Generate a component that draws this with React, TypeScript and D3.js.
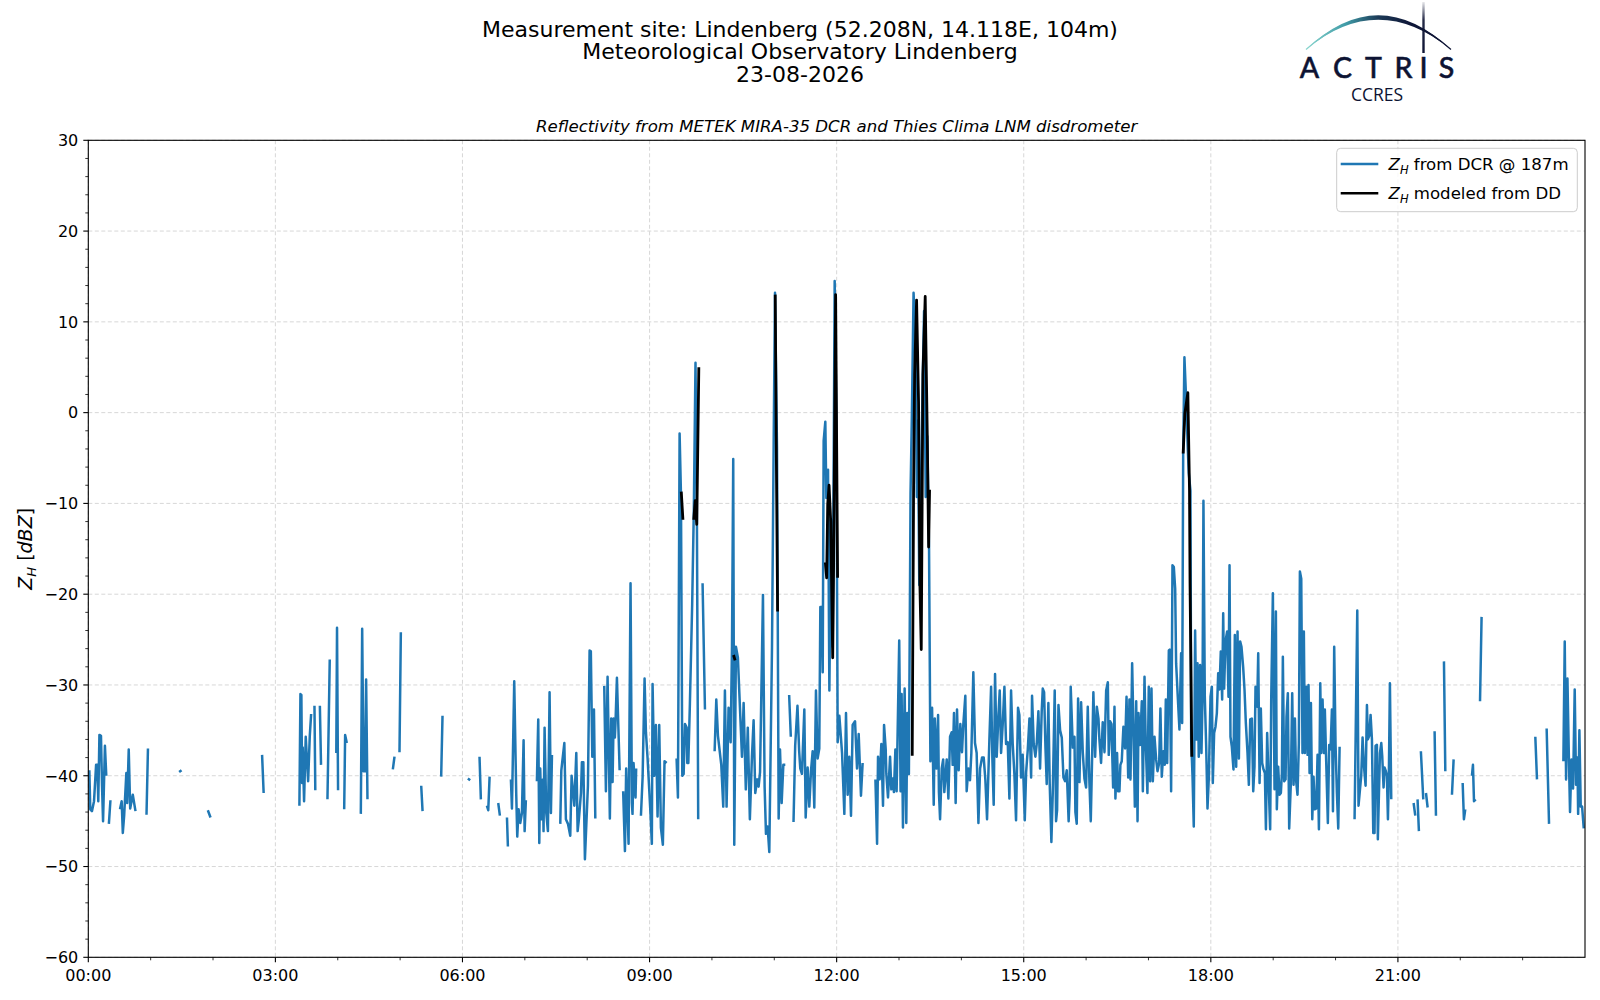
import React from "react";
import * as d3 from "d3";

type P = [number, number] | null;

// time in minutes since 00:00 UTC, reflectivity in dBZ; null = gap in data
const dcrNight: P[] = [
  [1, -39.4], [1.9, -43.7], [3.5, -43.9], [5.5, -42.8], [7.5, -38.8], [8.7, -38.8], [9.6, -42.8], [10.7, -35.5], [12.2, -35.6], [13.2, -41.1], [14.2, -45], [16, -36.7], [17.3, -40], null,
  [19.8, -45.3], [21.3, -42.7], null,
  [30.5, -43.7], [32.1, -42.8], [33.2, -46.3], [34.5, -44.4], [36.6, -39.7], [37.4, -43], [38.9, -37.1], [40.3, -43.6], [42.8, -42.1], [45.4, -43.9], null,
  [56, -44.3], [57.4, -37], null,
  [87.4, -39.6], [89.7, -39.4], null,
  [115, -43.8], [117.6, -44.6], null,
  [167.2, -37.7], [168.7, -41.9], null,
  [203.1, -43.3], [204.1, -31], [205, -31.1], [205.7, -40.8], [206.3, -36.9], [207.6, -42.8], [209.2, -35.7], [211.5, -40.6], [213.1, -35.6], [214.4, -33.2], null,
  [217.6, -32.3], [218.4, -41.6], null,
  [222.8, -32.3], [223.9, -38.8], null,
  [230.1, -42.6], [232.3, -27.2], null,
  [238.6, -37.5], [239.3, -23.7], [240.3, -41.6], null,
  [246.2, -43.7], [247.1, -35.5], [248.7, -36.4], null,
];

const dcrMorning: P[] = [
  [262.2, -44.2], [263.5, -23.8], [264.8, -39.5], [266.4, -39.5], [267.3, -29.4], [268.6, -42.6], null,
  [293, -39.3], [294.6, -37.9], null,
  [299.4, -37.4], [300.7, -24.2], null,
  [320.3, -41.1], [321.6, -43.9], null,
  [339.5, -40.1], [340.8, -33.4], null,
  [365.2, -40.3], [367.4, -40.5], null,
  [376.4, -37.9], [377.7, -42.6], null,
  [383.5, -43.3], [384.8, -43.8], [386.1, -40.1], null,
  [394.4, -43], [396, -44.4], null,
  [402.8, -44.6], [403.7, -47.8], null,
  [406.6, -40.4], [407.6, -43.6], [409.8, -29.6], [411.7, -41.9], [412.7, -46.7], [414, -43.7], [415.6, -45.2], [417.2, -44.1], [418.8, -36.1], [419.8, -46.1], [421, -42.7], null,
  [431.6, -40.6], [432.9, -33.8], [433.9, -47.4], [434.8, -39.2], [436.1, -44.8], [437.4, -40.4], [438, -46.1], [439, -34.7], [440.6, -44.1], [442.2, -46.1], [443.8, -30.8], [445.1, -44.1], [446.1, -37.7], null,
  [454.1, -45.3], [455.1, -39.4], [458, -36.4], [459.5, -44.8], [461.5, -45.3], [463.7, -46.6], [465, -40], [467.6, -43.3], [469.5, -37.5], [470.8, -46.1], [472, -44.8], [474, -41.9], [474.9, -38.5], [476.3, -38.5], [477.8, -49.2], [480.7, -41.1], [482.3, -26.2], [483.5, -26.3], [484.9, -37.9], [486.5, -32.7], [487.8, -44.7], null,
  [496.4, -30.1], [498, -41.7], [499.6, -29.1], [501.8, -44.7], [503.1, -33.7], [504.4, -40.7], [505.4, -33.7], [506.6, -35.8], [507.2, -34.3], [508.6, -29.2], [511.2, -39.4], null,
  [514.6, -41.7], [516.3, -48.3], [517.5, -39.2], [519.8, -47.5], [521.7, -18.8], [523, -43], [523.6, -44.2], [524.6, -38.6], [526.5, -42.4], [527.1, -39.2], null,
  [531.7, -44.4], [533.3, -40.2], [535.2, -29.3], [536.5, -35.2], [538.1, -38.1], [541, -44.4], [542.2, -47.5], [542.9, -29.9], [544.5, -40], [546.1, -34.4], [547.7, -44.5], [549.3, -34.4], [550.9, -45.7], [552.8, -47.6], [554.4, -38.4], [556.4, -38.6], null,
  [566, -38.1], [567.3, -42.4], [568.9, -2.3], [570.2, -8.9], [571.5, -40], [572.8, -39.8], [574.1, -34.3], [575.7, -34.7], [576.3, -38.6], [577.3, -38.6], [578.8, -32.1], [581, -21.1], [582.6, -10.6], [584.2, 5.5], [585.5, -10.1], [586.8, -44.8], null,
  [591, -18.8], [593.3, -32.7], null,
];

const dcrMidday: P[] = [
  [602.6, -37.3], [604.2, -31.6], [605.8, -35.6], [609, -38.8], [610.9, -43.4], [612.5, -30.6], [614.1, -43.4], [616, -32.5], [618, -36.3], [619.3, -25.8], [620.5, -5.1], [621.5, -47.6], [623.1, -25.8], [625, -27], [628.9, -37.9], [630.5, -32], [632.6, -41.5], [634.5, -34.7], [636.5, -44.8], [638.5, -37.9], [640.1, -33.9], [641.7, -41.9], [643.6, -40.4], [644.9, -41.2], [646.3, -39.6], [649.1, -20.1], [650.7, -41.2], [652, -46.4], [653.6, -45.6], [655.2, -48.4], [657.8, -25.8], [659.4, -3.4], [660.7, 13.2], [662.6, -3.8], [664.2, -44.7], [665.5, -37.1], [667.1, -43], [668.7, -38.8], [670.6, -38.8], null,
  [674.3, -31.1], [675.9, -35.7], null,
  [678.5, -45.1], [680.1, -36.7], [682.3, -32.3], [683.9, -37.2], [685, -39.2], [686.6, -39.8], [688.9, -32.7], [690.2, -44.6], [692.1, -39.1], [693.7, -43.4], [695.3, -39.5], [696.9, -37.3], [698.5, -43.5], [700.1, -30.6], [701.7, -38.1], [703.3, -37], [704.3, -21.4], [705.6, -21.4], [706.6, -28.6], [707.5, -3.1], [709.1, -1], [710.1, -9.4], [711.7, -6.3], [713, -30.6], [714.6, -11.8], [716.2, -25.8], [718.1, 14.5], [719.7, -0.1], [721, -36.3], [722.6, -33.4], [725.2, -37.5], [727.4, -44.2], [729, -33.1], [730.6, -42.1], [732.2, -37.9], [733.8, -44.4], [735.4, -34.4], [737.7, -34], [739.6, -39.2], [741.2, -35.4], [743.4, -42.2], [745, -38.6], null,
  [757.3, -40.4], [758.9, -47.5], [759.8, -37.9], [761.4, -40.4], [763, -36.5], [764.6, -43.3], [765.6, -34.4], [767.2, -37.1], [767.8, -39.8], [769.4, -42.4], [771.4, -37.9], [772.6, -41.5], [773.9, -40.3], [775.1, -41.8], [776.5, -37.1], [777.7, -41.7], [780.2, -25.1], [781.5, -41.7], [782.5, -31], [783.8, -45.7], [785.4, -30.4], [787, -45.2], [788, -33.1], [789.5, -39.8], [791.1, -8.9], [792.4, -0.1], [794, 13.2], [796, 8], [797.2, -9.3], [798.2, -0.9], [799.5, -19], [800.8, -10.6], [802.4, 0.8], [804.1, 11.2], [805.7, -9.3], [807.2, -2.6], [808.9, -15], [810.2, -38.4], [811.8, -32.5], [813.4, -43.2], [814.4, -33.7], [816, -39.2], [817.6, -33.3], [818.4, -41.8], [819.5, -44.8],
];

const dcrAfternoon: P[] = [
  [821.1, -39.2], [822.5, -38.2], [823.6, -41.8], [825.9, -38.2], [827.5, -42.5], [829.1, -35.7], [830.7, -35.2], [831.6, -38.8], [832.9, -33.1], [834.5, -43], [835.8, -32.7], [837.4, -39.4], [839, -34.3], [840.6, -37.4], [841.9, -34.3], [843.8, -31.2], [845.1, -41.7], [846.7, -39.2], [848.3, -40.5], [849.6, -37.5], [851.5, -28.6], [853.1, -36.4], [854.7, -37.5], [856.4, -45.2], [858, -39.2], [859.9, -38], [861.5, -38], [863.1, -40.5], [864.7, -44.8], [866.9, -36.2], [868.6, -30.2], [869.8, -38], [871.1, -43.2], [872.4, -28.8], [874, -37.9], [875.6, -33.5], [876.9, -30.6], [878.2, -37.5], [879.8, -34.3], [881.4, -30.2], [883, -36.5], [884.6, -36.3], [886.2, -42.5], [887.8, -30.6], [889.4, -36.5], [891, -39.8], [892.6, -44.9], [894.5, -32.5], [895.8, -33.3], [897.4, -40.2], [899, -37.7], [901, -44.9], [902.3, -39.6], [903.9, -37.1], [905.5, -33.7], [907.1, -40.2], [908, -31.2], [909.6, -36.5], [911.2, -37.9], [912.5, -36.5], [914.1, -32.9], [915.7, -39.2], [917.3, -32.9], [918.3, -30.4], [919.6, -30.8], [920.9, -36.9], [922.1, -40.9], [923.7, -32], [925, -40.9], [926.6, -47.3], [927.9, -42], [929.8, -30.6], [931.1, -45], [932.1, -43.8], [933.4, -32.2], [935, -35], [936.6, -35.8], [938.2, -40.2], [939.8, -40.6], [941.4, -39.4], [943.2, -45], [944.2, -42], [945.2, -30.2], [947.2, -36.9], [948.8, -35.7], [949.7, -44], [951, -45.3], [952.3, -31.5], [953.6, -40.7], [955.2, -31.9], [956.8, -37.4], [958.4, -40.3], [960, -41.3], [961.6, -32.4], [963.2, -40.8], [964.5, -45], [965.8, -37.9], [967, -30.8], [968.7, -37.9], [970.3, -32.4], [971.9, -33.7], [972.8, -36], [974.4, -38.6], [976, -34.1], [977.7, -37.4], [979.3, -30.6], [980.9, -29.7], [981.8, -37.7], [983.1, -34], [984.4, -34.3], [986, -41.3], [987.3, -32.4], [988.2, -42.5], [989.8, -37.5], [990.8, -41.7], [992.1, -41.7], [993, -38.8], [994.3, -38.4], [995.9, -34.6], [997.5, -37], [998.9, -31.3], [1000.5, -40.2],
  [1001.7, -31.6], [1002.7, -40.4], [1004.3, -27.6], [1005.6, -34.9], [1006.9, -43.4], [1008.2, -31.8], [1009.5, -45], [1010.4, -33.1], [1012, -36.6], [1013.6, -31.8], [1014.6, -41.7], [1016.2, -29.1], [1017.4, -36.6], [1019, -41.9], [1020.3, -30.2], [1021.6, -40.6], [1022.9, -30.4], [1024.2, -40.6], [1025.8, -35.7], [1027.4, -38.2], [1028.7, -39.5], [1030.3, -38.6], [1031.5, -32.6], [1032.8, -40.1], [1034.4, -37.3], [1035.7, -38.8], [1036.7, -31.6], [1038, -38.6], [1039.6, -26.2], [1040.5, -26.1], [1041.8, -41.7], [1043.1, -16.8], [1044.4, -17], [1045.7, -19.4], [1046.6, -27.6], [1048.2, -31.3], [1049.8, -34.9], [1051.4, -26.5], [1052.4, -34.2], [1053.4, -4.5], [1054.6, 6.1], [1056.3, 1.3], [1057.9, -4.2], [1058.8, -6.7], [1060.4, -8.6], [1061.1, -36], [1062.4, -40.1], [1063.6, -45.6], [1064.9, -24], [1066.2, -36], [1067.2, -27.6], [1068.4, -37.9], [1069.7, -27.8], [1071, -37.5], [1072, -31.5], [1072.9, -9.7], [1074.2, -31.3], [1075.5, -36.6], [1076.8, -43.6], [1078.1, -40.1], [1079.7, -31.3],
];

const dcrEvening: P[] = [
  [1081, -30.2], [1081.9, -40.8], [1083.2, -35.3], [1084.5, -34.6], [1085.8, -33.1], [1087.1, -28.7], [1088.3, -30.5], [1089.6, -26.3], [1090.9, -31.6], [1091.9, -22.1], [1092.8, -30.4], [1094.1, -25.2], [1095.7, -24.1], [1097, -31.3], [1098, -16.8], [1098.9, -35.7], [1100.2, -36.8], [1101.8, -39.3], [1103.1, -24.5], [1104.4, -39], [1105.7, -24.1], [1107, -38.1], [1108.2, -25.2], [1109.5, -25.8], [1111.1, -28], [1112.4, -30.5], [1113.7, -34.2], [1115.3, -37.5], [1116.6, -41], [1117.9, -33.8], [1119.5, -33.7], [1120.8, -41.7], [1122, -39], [1123, -30.2], [1124.6, -32.4], [1125.6, -26.5], [1126.9, -40.8], [1128.1, -32.6], [1129.4, -38.6], [1130.7, -39.3], [1132, -39.7], [1133, -45.9], [1134.2, -35.3], [1135.8, -41.5], [1137.1, -45.9], [1138.1, -31.6], [1139.7, -19.9], [1141.3, -41.5], [1142.6, -21.9], [1143.5, -43.7], [1144.8, -39], [1146.1, -42.1], [1147.4, -41.9], [1148.4, -39.7], [1149.3, -26.9], [1150.6, -40.6], [1151.9, -40.4], [1152.8, -33.5], [1154.1, -30.9], [1155.4, -45.8], [1157, -40.8], [1158.3, -30.9], [1159.6, -41], [1160.9, -33.7], [1162.1, -40.6], [1163.4, -42.1], [1164.7, -36.4], [1165.7, -17.5], [1167, -18.3], [1168.2, -37.5], [1169.5, -24.1], [1170.5, -37.5], [1171.8, -30.2], [1173.1, -37.7], [1174, -30], [1175, -39.7], [1176.3, -32], [1177.6, -44.8], [1178.8, -40.1], [1180.1, -43.7], [1181.4, -43.6], [1182.7, -37.7], [1184, -45.9], [1185.3, -29.8], [1186.2, -37.5], [1187.5, -31.6], [1188.8, -37.5], [1189.7, -32.7], [1191, -38.4], [1192.6, -45.2], [1193.9, -36.6], [1195.2, -37.1], [1196.5, -32.7], [1197.5, -43.9], [1198.7, -25.8], [1200, -36.6], [1201.3, -41.9], [1202.6, -45.8], [1203.9, -36.8], null,
  [1218.3, -44.8], [1220.9, -21.8], [1222.1, -43.3], [1224.7, -40], [1226, -35.8], [1227.3, -38.9], [1228.9, -41.1], [1230.2, -32.2], [1231.1, -36], [1232.4, -35.6], [1233.7, -33.3], [1235, -36], [1236.3, -46.3], [1237.5, -46.3], [1238.5, -36.7], [1239.8, -36.6], [1240.7, -47], [1242.7, -37.5], [1244, -36.4], [1244.9, -37.8], [1246.2, -41.3], [1247.2, -39.1], [1248.4, -39.5], [1249.4, -40], [1250.4, -44.8], [1251.3, -39.7], [1252.3, -29.8], [1253.6, -42.6], null,
  [1275.1, -43], [1276.7, -44.4], null,
  [1278.9, -42.6], [1280.2, -46.1], null,
  [1282.1, -37.3], [1284.4, -42.6], null,
  [1287, -41.9], [1288.6, -43.5], null,
  [1295.3, -35.1], [1296.6, -44.4], null,
  [1304.3, -27.4], [1305.6, -39.5], null,
  [1312, -42.1], [1313.6, -38.2], null,
  [1322.3, -40.8], [1323.5, -44.8], [1324.8, -43.7], null,
  [1331.2, -40], [1332.2, -38.8], [1333.2, -42.8], [1334.8, -42.6], null,
  [1339, -31.8], [1340.5, -22.5], null,
  [1392.2, -35.7], [1393.8, -40.4], null,
  [1403.1, -34.8], [1405.4, -45.3], null,
  [1419.2, -38.4], [1420.5, -25.2], [1421.8, -40.4], [1423.1, -29.3], [1424.4, -37.5], [1425.6, -44], [1427, -38.2], [1428.5, -41.4], [1430.1, -30.5], [1431.4, -41], [1432.7, -38], [1433.4, -44.2], [1434.6, -35], [1435.9, -43.4], [1437.2, -43.4], [1438.8, -45.8],
];

// Z_H modeled from the disdrometer drop size distribution
const ddModel: P[] = [
  [570.5, -8.7], [572.1, -11.8], null,
  [582.5, -11.8], [583.9, -9.7], [585.4, -12.3], [587.4, 5], null,
  [620.8, -26.7], [622.3, -27.3], null,
  [660.9, 13], [661.9, -3.5], [663.2, -21.9], null,
  [709.1, -16.5], [710.4, -18.2], [711.4, -10.1], [712.7, -8], [714.3, -12], [716.2, -27], [717.1, -16.5], [719, 13], [720.9, -18.2], null,
  [792.7, -37.8], [794, -8.9], [795, 4.2], [796.9, 12.4], [798.8, 1.2], [800.1, -19], [801.4, -26.1], [803, 4.2], [805.2, 12.8], [807.2, -2.6], [808.5, -14.8], [809.4, -8.5], null,
  [1053.4, -4.5], [1055, -0.1], [1057.9, 2.2], [1059.5, -8.6], [1060, -18.8], [1061.7, -37.9],
];

const xTickLabels = ["00:00", "03:00", "06:00", "09:00", "12:00", "15:00", "18:00", "21:00"];
const yTickValues = [-60, -50, -40, -30, -20, -10, 0, 10, 20, 30];
const titleLines = [
  "Measurement site: Lindenberg (52.208N, 14.118E, 104m)",
  "Meteorological Observatory Lindenberg",
  "23-08-2026",
];
const subtitle = "Reflectivity from METEK MIRA-35 DCR and Thies Clima LNM disdrometer";

const W = 1600;
const H = 1000;
const PL = 88.3, PR = 1585, PT = 140.3, PB = 957.3;
const FONT = "'DejaVu Sans', sans-serif";
const BLUE = "#1f77b4";

export default function App() {
  const x = d3.scaleLinear().domain([0, 1440]).range([PL, PR]);
  const y = d3.scaleLinear().domain([-60, 30]).range([PB, PT]);
  const line = d3
    .line<P>()
    .defined((d) => d !== null)
    .x((d) => x((d as [number, number])[0]))
    .y((d) => y((d as [number, number])[1]));

  const dcr = [...dcrNight, ...dcrMorning, ...dcrMidday, ...dcrAfternoon, ...dcrEvening];
  const xMajor = xTickLabels.map((_, i) => i * 180);
  const xMinor = d3.range(0, 1441, 60).filter((m) => m % 180 !== 0);
  const yMinor = d3.range(-60, 31, 2).filter((v) => v % 10 !== 0);

  return (
    <svg
      width={W}
      height={H}
      viewBox={`0 0 ${W} ${H}`}
      style={{ position: "absolute", left: 0, top: 0, background: "#fff" }}
      fontFamily={FONT}
    >
      <defs>
        <clipPath id="plotClip">
          <rect x={PL} y={PT} width={PR - PL} height={PB - PT} />
        </clipPath>
        <linearGradient id="arcGrad" x1="1306" y1="0" x2="1451" y2="0" gradientUnits="userSpaceOnUse">
          <stop offset="0" stopColor="#8ad6cf" />
          <stop offset="0.28" stopColor="#3f9aa6" />
          <stop offset="0.5" stopColor="#1c3a57" />
          <stop offset="0.72" stopColor="#0f1738" />
          <stop offset="1" stopColor="#0d1333" />
        </linearGradient>
        <linearGradient id="vGrad" x1="0" y1="2" x2="0" y2="53" gradientUnits="userSpaceOnUse">
          <stop offset="0" stopColor="#0d1333" stopOpacity="0.1" />
          <stop offset="0.35" stopColor="#0d1333" stopOpacity="0.9" />
          <stop offset="1" stopColor="#0d1333" />
        </linearGradient>
      </defs>
      <rect x={0} y={0} width={W} height={H} fill="#fff" />

      {/* titles */}
      {titleLines.map((t, i) => (
        <text key={t} x={800} y={36.7 + i * 22.5} textAnchor="middle" fontSize={22} fill="#000">
          {t}
        </text>
      ))}
      <text x={(PL + PR) / 2} y={131.5} textAnchor="middle" fontSize={16.6} fontStyle="italic" fill="#000">
        {subtitle}
      </text>

      {/* logo */}
      <g>
        <path d="M1306,49.5 Q1378,-19 1451,49.5 Q1378,-10 1306,49.5 Z" fill="url(#arcGrad)" />
        <path d="M1306,49.5 Q1378,-14.5 1451,49.5" fill="none" stroke="url(#arcGrad)" strokeWidth={1.2} />
        <line x1={1423.5} y1={2} x2={1423.5} y2={53} stroke="url(#vGrad)" strokeWidth={2.4} />
        {[
          ["A", 1309.5],
          ["C", 1342.5],
          ["T", 1373.5],
          ["R", 1403.5],
          ["I", 1423.5],
          ["S", 1446.5],
        ].map(([c, cx]) => (
          <text key={c as string} x={cx as number} y={78} textAnchor="middle" fontSize={28.5} fontWeight={500} fontFamily="Lato, 'Noto Sans', sans-serif" fill="#0d1333" stroke="#0d1333" strokeWidth={0.5}>
            {c}
          </text>
        ))}
        <text x={1377} y={100.5} textAnchor="middle" fontSize={17.5} fontFamily="'Open Sans', 'Noto Sans', sans-serif" fill="#0d1333">
          CCRES
        </text>
      </g>

      {/* grid */}
      <g stroke="#d3d3d3" strokeWidth={0.9} strokeDasharray="4,2.5">
        {xMajor.map((m) => (
          <line key={"gx" + m} x1={x(m)} x2={x(m)} y1={PT} y2={PB} />
        ))}
        {yTickValues.map((v) => (
          <line key={"gy" + v} x1={PL} x2={PR} y1={y(v)} y2={y(v)} />
        ))}
      </g>

      {/* data */}
      <g clipPath="url(#plotClip)" fill="none" strokeLinejoin="round" strokeLinecap="butt">
        <path d={line(dcr) || ""} stroke={BLUE} strokeWidth={2.5} />
        <path d={line(ddModel) || ""} stroke="#000" strokeWidth={2.8} />
      </g>

      {/* spines */}
      <rect x={PL} y={PT} width={PR - PL} height={PB - PT} fill="none" stroke="#000" strokeWidth={1.1} />

      {/* ticks */}
      <g stroke="#000">
        {xMajor.map((m) => (
          <line key={"tx" + m} x1={x(m)} x2={x(m)} y1={PB} y2={PB + 5} strokeWidth={1.1} />
        ))}
        {xMinor.map((m) => (
          <line key={"mx" + m} x1={x(m)} x2={x(m)} y1={PB} y2={PB + 3} strokeWidth={0.8} />
        ))}
        {yTickValues.map((v) => (
          <line key={"ty" + v} x1={PL - 5} x2={PL} y1={y(v)} y2={y(v)} strokeWidth={1.1} />
        ))}
        {yMinor.map((v) => (
          <line key={"my" + v} x1={PL - 3} x2={PL} y1={y(v)} y2={y(v)} strokeWidth={0.8} />
        ))}
      </g>
      <g fontSize={16} fill="#000">
        {xTickLabels.map((lab, i) => (
          <text key={lab} x={x(xMajor[i])} y={PB + 24} textAnchor="middle">
            {lab}
          </text>
        ))}
        {yTickValues.map((v) => (
          <text key={"yl" + v} x={PL - 10} y={y(v) + 5.8} textAnchor="end">
            {v < 0 ? "\u2212" + Math.abs(v) : String(v)}
          </text>
        ))}
      </g>

      {/* y label */}
      <text transform={`translate(31.5,${(PT + PB) / 2}) rotate(-90)`} textAnchor="middle" fontSize={19} fill="#000">
        <tspan fontStyle="italic">Z</tspan>
        <tspan fontStyle="italic" fontSize={13} dy={4}>H</tspan>
        <tspan dy={-4}> [</tspan>
        <tspan fontStyle="italic">dBZ</tspan>
        <tspan>]</tspan>
      </text>

      {/* legend */}
      <g>
        <rect x={1336.7} y={148.3} width={240.6} height={63.4} rx={4} fill="#fff" fillOpacity={0.8} stroke="#cccccc" strokeWidth={1} />
        <line x1={1340.7} x2={1378.3} y1={164} y2={164} stroke={BLUE} strokeWidth={2.5} />
        <line x1={1340.7} x2={1378.3} y1={193.3} y2={193.3} stroke="#000" strokeWidth={2.5} />
        <text x={1388.5} y={170} fontSize={16.6} fill="#000">
          <tspan fontStyle="italic">Z</tspan>
          <tspan fontStyle="italic" fontSize={11.5} dy={3.5}>H</tspan>
          <tspan dy={-3.5}> from DCR @ 187m</tspan>
        </text>
        <text x={1388.5} y={199.3} fontSize={16.6} fill="#000">
          <tspan fontStyle="italic">Z</tspan>
          <tspan fontStyle="italic" fontSize={11.5} dy={3.5}>H</tspan>
          <tspan dy={-3.5}> modeled from DD</tspan>
        </text>
      </g>
    </svg>
  );
}
